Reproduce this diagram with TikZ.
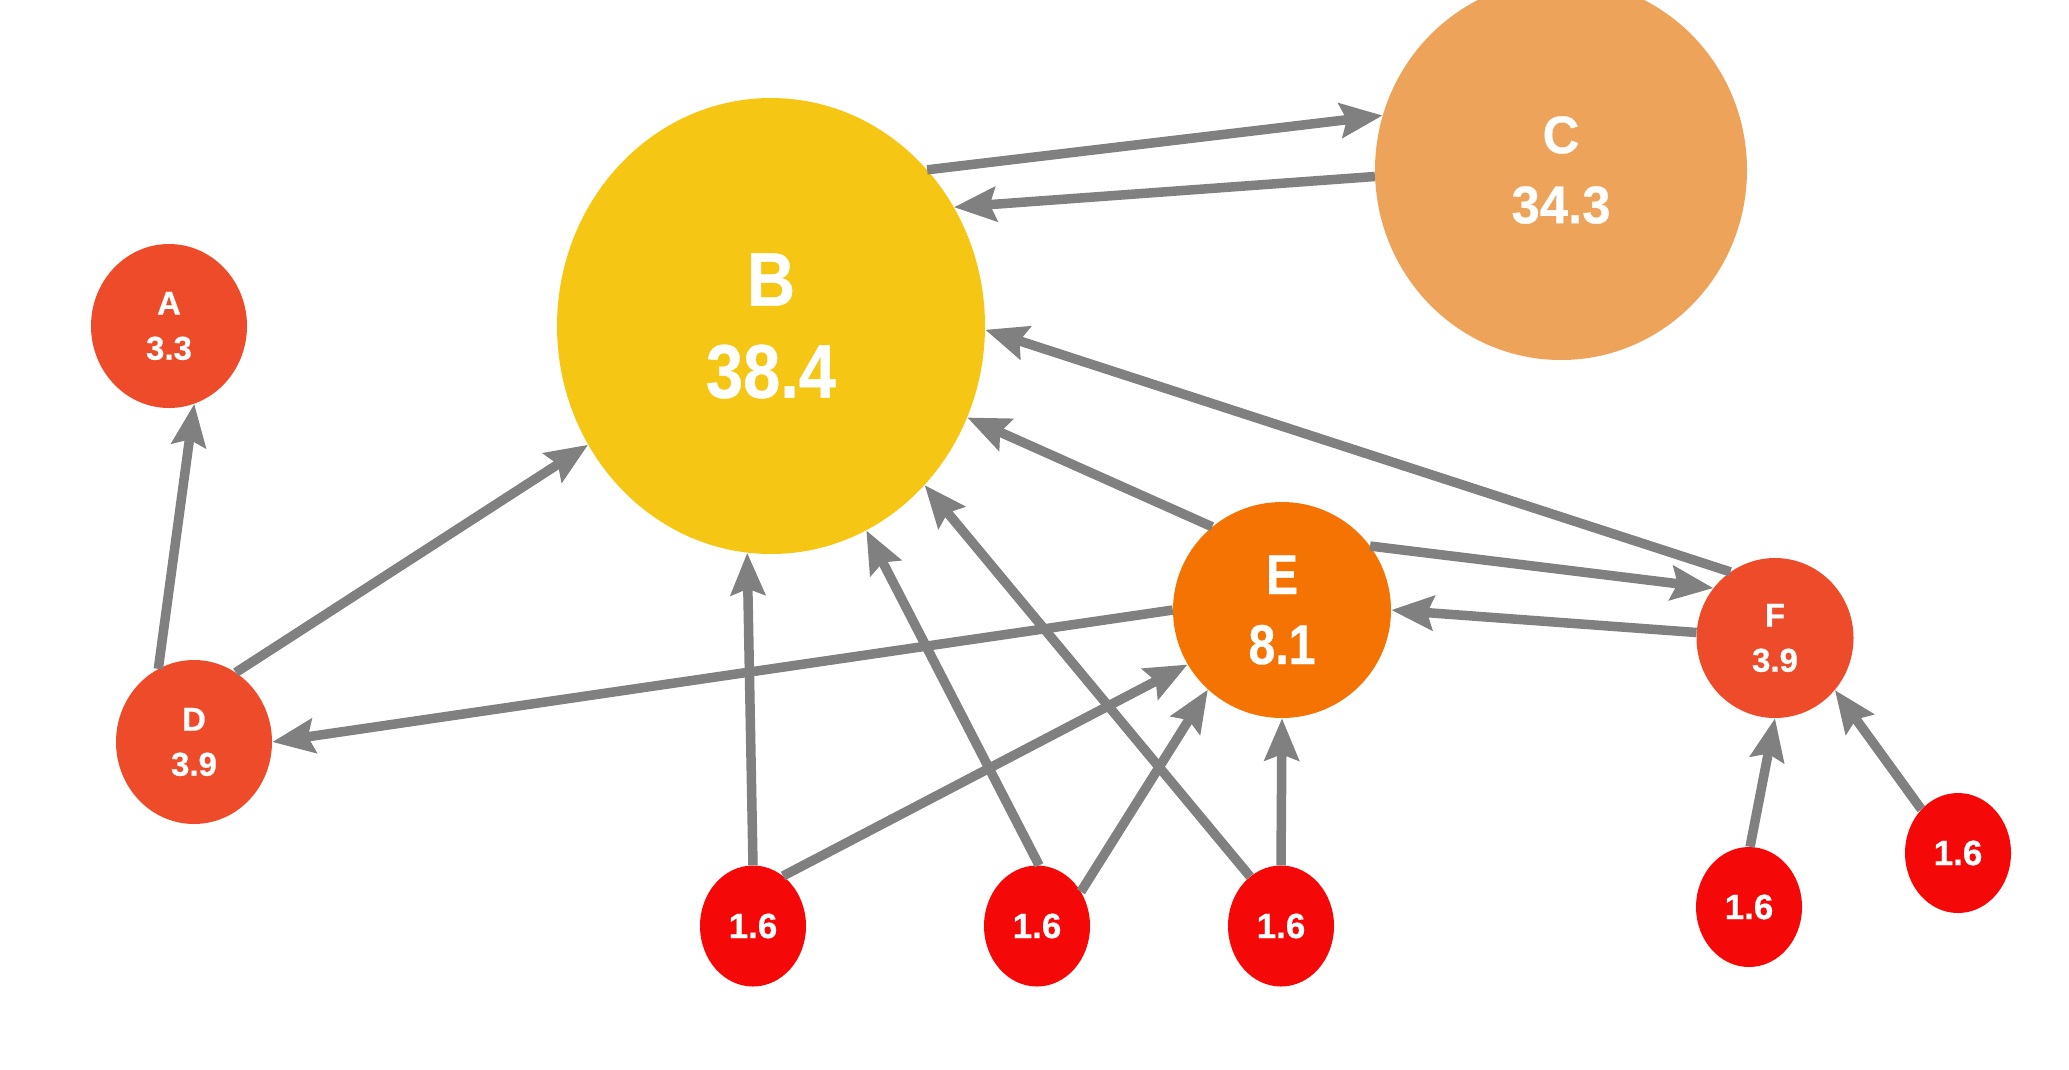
\documentclass[tikz,border=0pt]{standalone}
\usepackage{fontspec}
\newfontfamily\lab{Liberation Sans}[FakeBold=0.6]
\usetikzlibrary{shapes.geometric,arrows.meta}

% condensed bold label text (optional horizontal scale)
\newcommand\narrowtxt[2][0.86]{\scalebox{#1}[1]{#2}}

\definecolor{linkgray}{HTML}{808080}
\definecolor{colB}{HTML}{F6C614}
\definecolor{colC}{HTML}{EDA35A}
\definecolor{colE}{HTML}{F57302}
\definecolor{colMid}{HTML}{EE4B2B}
\definecolor{colLeaf}{HTML}{F50808}

\begin{document}
\begin{tikzpicture}[x=1pt,y=-1pt,
  blob/.style={ellipse, inner sep=0pt, text=white, align=center},
  leaf/.style={blob, fill=colLeaf, minimum width=106, minimum height=121,
    font={\lab\bfseries\fontsize{35}{40}\selectfont}},
  mid/.style={blob, fill=colMid, minimum width=156, minimum height=164,
    font={\lab\bfseries\fontsize{33}{45}\selectfont}},
  link/.style={draw=linkgray, line width=9.5pt,
    -{Stealth[length=42pt,width=34pt,inset=6pt]}},
]
\useasboundingbox (0,0) rectangle (2069,1069);

% weighted nodes
\node[blob, fill=colB, minimum width=428, minimum height=456,
  font={\lab\bfseries\fontsize{76}{92}\selectfont}] (B) at (771,326)
  {\narrowtxt[0.88]{B}\\\narrowtxt[0.88]{38.4}};
\node[blob, fill=colC, minimum width=372, minimum height=380,
  font={\lab\bfseries\fontsize{53}{70}\selectfont}] (C) at (1561,170)
  {\narrowtxt[0.96]{C}\\\narrowtxt[0.96]{34.3}};
\node[blob, fill=colE, minimum width=218, minimum height=216,
  font={\lab\bfseries\fontsize{56}{70}\selectfont}] (E) at (1282,610)
  {\narrowtxt{E}\\\narrowtxt{8.1}};
\node[mid] (A) at (169,326) {A\\3.3};
\node[mid] (D) at (194,742) {D\\3.9};
\node[mid, minimum width=157, minimum height=160] (F) at (1775,638) {F\\3.9};

% leaf nodes
\node[leaf] (s1) at (753,926) {1.6};
\node[leaf] (s2) at (1037,926) {1.6};
\node[leaf] (s3) at (1281,926) {1.6};
\node[leaf, minimum height=120] (s4) at (1749,907) {1.6};
\node[leaf, minimum height=120] (s5) at (1958,853) {1.6};

% links
\draw[link] (D.116) -- (A.-72);
\draw[link] (D.59) -- (B.-147);
\draw[link] (B.45) -- (C.163);
\draw[link] (C.182) -- (B.33);
\draw[link] (E.130) -- (B.-25);
\draw[link] (F.124) -- (B.-1);
\draw[link] (E.36) -- (F.141);
\draw[link] (F.176) -- (E.-0.5);
\draw[link] (E.180) -- (D.-0.4);
\draw[link] (s1.90) -- (B.-96);
\draw[link] (s1.59) -- (E.210);
\draw[link] (s2.88) -- (B.-65.5);
\draw[link] (s2.38) -- (E.227);
\draw[link] (s3.122) -- (B.-46.7);
\draw[link] (s3.90) -- (E.-90);
\draw[link] (s4.89) -- (F.-90);
\draw[link] (s5.130) -- (F.-41);
\end{tikzpicture}
\end{document}
